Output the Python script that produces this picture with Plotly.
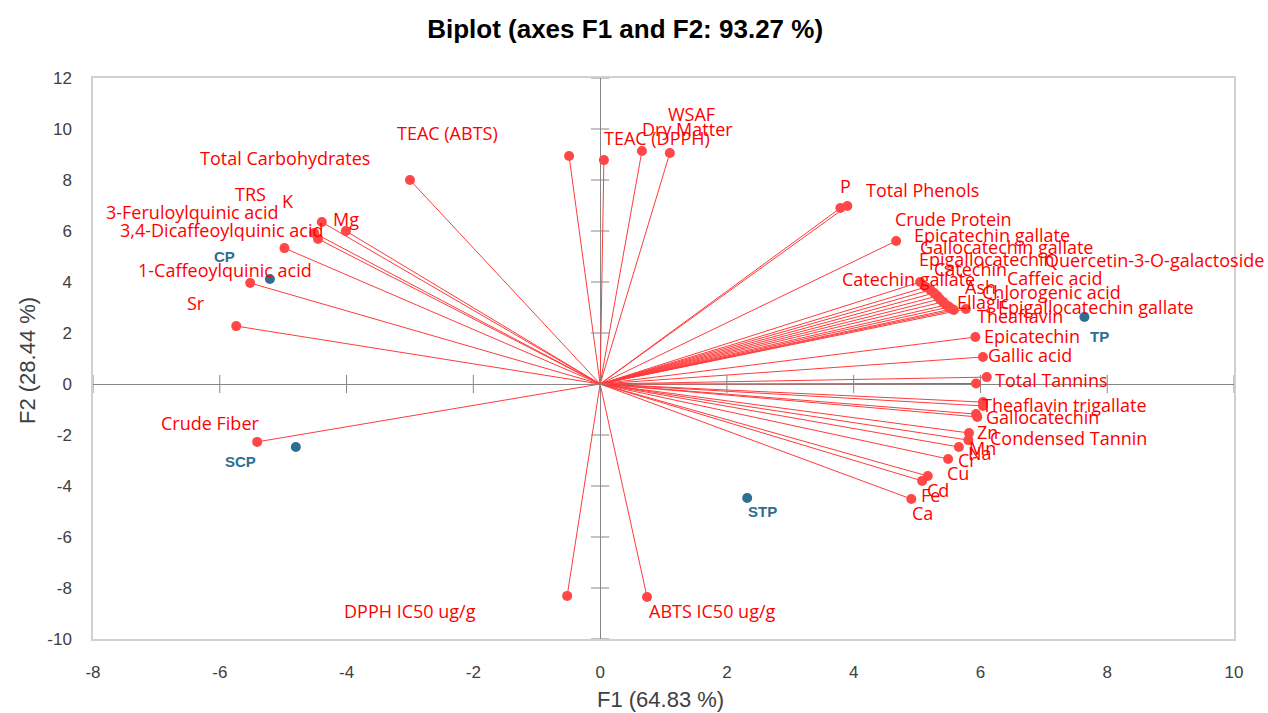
import plotly.graph_objects as go

# ---------------- data ----------------
VAR_NAMES = [
    "Total Carbohydrates", "TEAC (ABTS)", "TEAC (DPPH)", "Dry Matter", "WSAF",
    "K", "Mg", "3-Feruloylquinic acid", "3,4-Dicaffeoylquinic acid", "TRS",
    "1-Caffeoylquinic acid", "Sr", "Crude Fiber", "DPPH IC50 ug/g", "ABTS IC50 ug/g",
    "P", "Total Phenols", "Crude Protein", "Catechin gallate",
    "Epicatechin gallate", "Gallocatechin gallate", "Epigallocatechin",
    "Quercetin-3-O-galactoside", "Catechin", "Caffeic acid", "Ash",
    "Chlorogenic acid", "Ellagic", "Epigallocatechin gallate", "Theaflavin",
    "Epicatechin", "Gallic acid", "Total Tannins", "",
    "Theaflavin trigallate", "Gallocatechin", "Zn", "Condensed Tannin", "Mn",
    "Na", "Cr", "Cu", "Cd", "Fe", "Ca",
]
VAR_F1 = [
    -3.00, -0.49, 0.06, 0.66, 1.10,
    -4.39, -4.01, -4.51, -4.45, -4.98,
    -5.52, -5.74, -5.41, -0.52, 0.74,
    3.79, 3.90, 4.67, 5.05,
    5.14, 5.21, 5.27,
    5.32, 5.36, 5.41, 5.46,
    5.51, 5.55, 5.77, 5.58,
    5.92, 6.04, 6.10, 5.93,
    6.04, 5.93, 5.82, 5.81, 5.66,
    6.04, 5.49, 5.17, 5.08, 5.95, 4.91,
]
VAR_F2 = [
    8.00, 8.94, 8.78, 9.14, 9.06,
    6.35, 6.00, 5.92, 5.69, 5.33,
    3.96, 2.27, -2.27, -8.31, -8.35,
    6.90, 6.98, 5.61, 4.00,
    3.80, 3.69, 3.57,
    3.45, 3.33, 3.22, 3.10,
    3.02, 2.94, 2.94, 2.90,
    1.84, 1.06, 0.27, 0.02,
    -0.71, -1.18, -1.92, -2.20, -2.47,
    -0.86, -2.94, -3.61, -3.80, -1.29, -4.51,
]

OBS_NAMES = ["CP", "SCP", "TP", "STP"]
OBS_F1 = [-5.21, -4.80, 7.64, 2.32]
OBS_F2 = [4.12, -2.47, 2.63, -4.47]

X_TICKS = [-8, -6, -4, -2, 0, 2, 4, 6, 8, 10]
Y_TICKS = [-10, -8, -6, -4, -2, 0, 2, 4, 6, 8, 10, 12]
X_TICK_LABELS = [str(t) for t in X_TICKS]
Y_TICK_LABELS = [str(t) for t in Y_TICKS]

# ---------------- label placement (pixel offsets, style only) ----------------
VAR_LABEL_SHIFT = [
    (-125, 22), (-122, 23), (53, 22), (46, 22), (22, 39),
    (-34, 21), (0, 12), (-122, 21), (-96, 9), (-34, 54),
    (-25, 13), (-40, 23), (-47, 19), (-157, -15), (65, -14),
    (5, 22), (75, 16), (57, 22), (-12, 3),
    (66, 52), (76, 43), (53, 34),
    (217, 36), (31, 30), (112, 24), (34, 18),
    (102, 15), (31, 7), (130, 2), (66, -6),
    (57, 1), (47, 2), (65, -3), (0, 0),
    (82, -3), (66, -3), (18, 1), (100, 2), (24, -1),
    (-3, -47), (19, -1), (30, 3), (16, -9), (-47, -78), (11, -14),
]
OBS_LABEL_SHIFT = [(-45, 22), (-55, -15), (15, -20), (15, -14)]

RED_LINE = "#FF3B3B"
RED_DOT = "#FF4747"
RED_TEXT = "#FF0000"
BLUE = "#2D6E91"
AXIS_GREY = "#868686"

fig = go.Figure()

# vectors from origin
lx, ly = [], []
for a, b in zip(VAR_F1, VAR_F2):
    lx += [0, a, None]
    ly += [0, b, None]
fig.add_trace(go.Scatter(x=lx, y=ly, mode="lines",
                         line=dict(color=RED_LINE, width=1),
                         hoverinfo="skip", showlegend=False))

# tick crosses on the zero axes
fig.add_trace(go.Scatter(x=[0] * len(Y_TICKS), y=Y_TICKS, mode="markers",
                         marker=dict(symbol="line-ew", size=13,
                                     line=dict(color=AXIS_GREY, width=1)),
                         hoverinfo="skip", showlegend=False))
fig.add_trace(go.Scatter(x=X_TICKS, y=[0] * len(X_TICKS), mode="markers",
                         marker=dict(symbol="line-ns", size=13,
                                     line=dict(color=AXIS_GREY, width=1)),
                         hoverinfo="skip", showlegend=False))

# variable points
fig.add_trace(go.Scatter(x=VAR_F1, y=VAR_F2, mode="markers",
                         marker=dict(color=RED_DOT, size=10),
                         text=VAR_NAMES, showlegend=False))

# observation points
fig.add_trace(go.Scatter(x=OBS_F1, y=OBS_F2, mode="markers",
                         marker=dict(color=BLUE, size=10),
                         text=OBS_NAMES, showlegend=False))

annotations = []
for name, a, b, (dx, dy) in zip(VAR_NAMES, VAR_F1, VAR_F2, VAR_LABEL_SHIFT):
    if not name:
        continue
    annotations.append(dict(x=a, y=b, xref="x", yref="y", text=name,
                            showarrow=False, xshift=dx, yshift=dy,
                            xanchor="center", yanchor="middle",
                            font=dict(family="Open Sans", size=18, color=RED_TEXT)))
for name, a, b, (dx, dy) in zip(OBS_NAMES, OBS_F1, OBS_F2, OBS_LABEL_SHIFT):
    annotations.append(dict(x=a, y=b, xref="x", yref="y", text="<b>%s</b>" % name,
                            showarrow=False, xshift=dx, yshift=dy,
                            xanchor="center", yanchor="middle",
                            font=dict(family="Liberation Sans", size=15, color=BLUE)))

# axis titles
annotations.append(dict(x=0.497, y=-0.108, xref="paper", yref="paper",
                        text="F1 (64.83 %)", showarrow=False,
                        xanchor="center", yanchor="middle",
                        font=dict(family="Liberation Sans", size=22, color="#404040")))
annotations.append(dict(x=-0.058, y=0.497, xref="paper", yref="paper",
                        text="F2 (28.44 %)", showarrow=False, textangle=-90,
                        xanchor="center", yanchor="middle",
                        font=dict(family="Liberation Sans", size=22, color="#404040")))

axis_common = dict(showgrid=False, zeroline=True, zerolinecolor=AXIS_GREY,
                   zerolinewidth=1, showline=True, mirror=True,
                   linecolor="#D0D0D0", linewidth=1.5, ticks="",
                   tickfont=dict(family="Liberation Sans", size=17, color="#404040"))

fig.update_layout(
    width=1268, height=713,
    margin=dict(l=93, r=34, t=78, b=74),
    paper_bgcolor="white", plot_bgcolor="white",
    title=dict(text="<b>Biplot (axes F1 and F2: 93.27 %)</b>",
               x=0.493, xref="container", y=1 - 29 / 713, yref="container",
               xanchor="center", yanchor="middle",
               font=dict(family="Liberation Sans", size=26, color="black")),
    xaxis=dict(range=[-8, 10], tickvals=X_TICKS, ticktext=X_TICK_LABELS,
               ticklabelstandoff=17, **axis_common),
    yaxis=dict(range=[-10, 12], tickvals=Y_TICKS, ticktext=Y_TICK_LABELS,
               ticklabelstandoff=16, **axis_common),
    annotations=annotations,
    showlegend=False,
)

fig.write_html("out.html")
